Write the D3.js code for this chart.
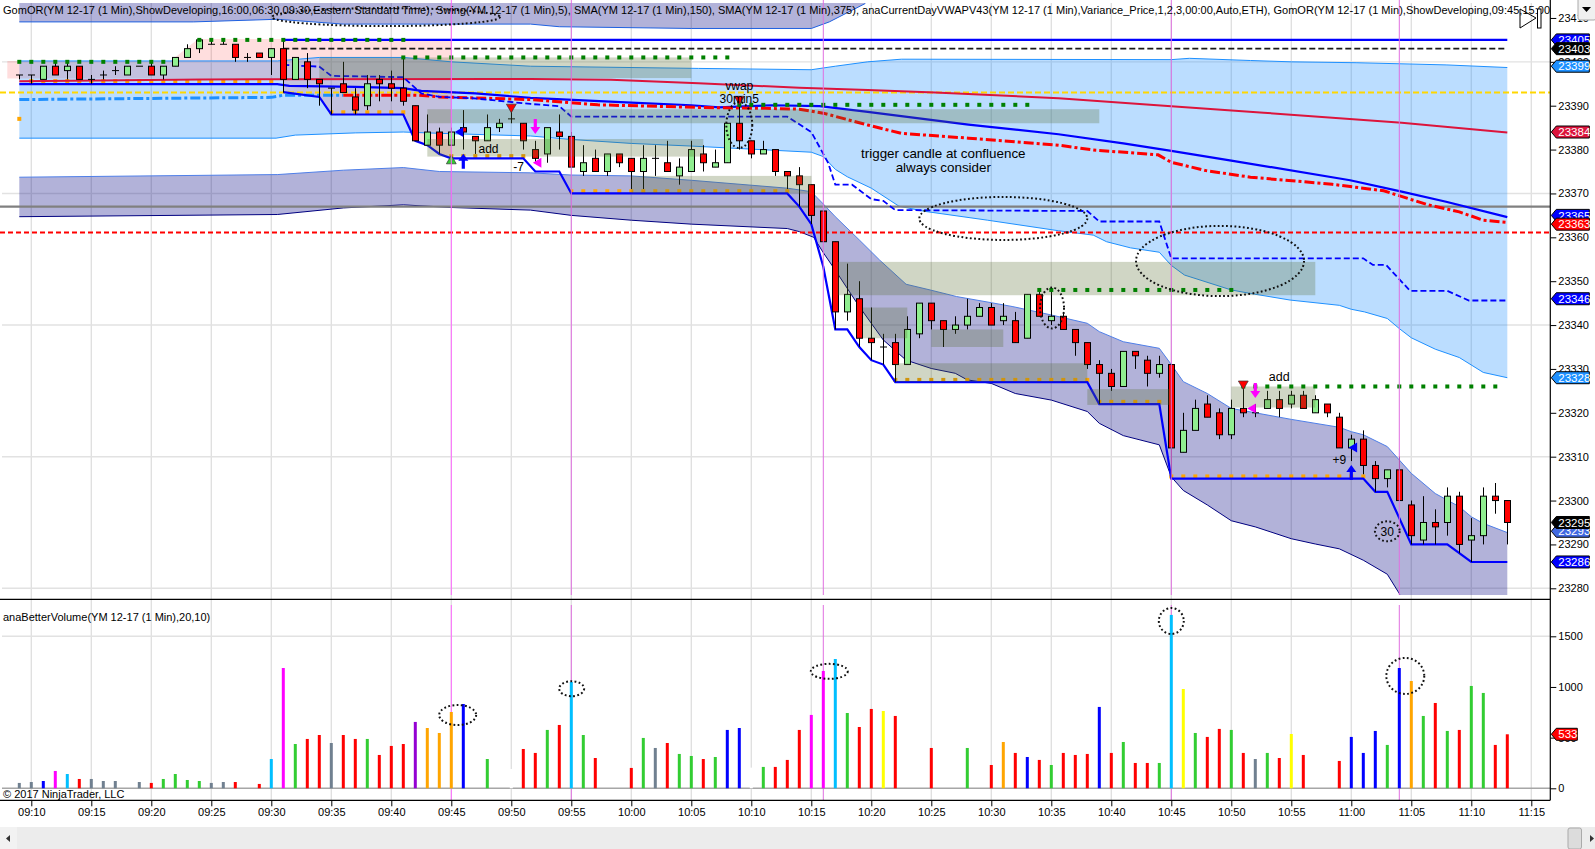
<!DOCTYPE html>
<html>
<head>
<meta charset="utf-8">
<script src="https://cdn.jsdelivr.net/npm/d3@7"></script>
<style>
body { margin: 0; background: #fff; }
text { font-family: "Liberation Sans", Arial, sans-serif; font-size: 11px; fill: #000; }
</style>
</head>
<body>
<div id="root"></div>
<script>
// minutes are counted from 09:09, one candle per minute
var opens = [23397,23397,23396,23399,23398,23399,23396,23397,23398,23397,23399,23399,23397,23399,23401,23403,23404,23404,23404,23401,23402,23401,23403,23396,23400,23396,23394,23395,23392,23390,23396,23395,23394,23390,23381,23384,23381,23385,23383,23382,23385,23387,23386,23380,23379,23384,23383,23375,23378,23375,23379,23378,23375,23378,23377,23374,23375,23379,23376,23377,23386,23382,23379,23380,23375,23374,23372,23366,23359,23343,23346,23337,23335,23336,23331,23338,23345,23341,23339,23340,23342,23344,23341,23341,23337,23347,23341,23342,23339,23336,23331,23329,23326,23334,23332,23329,23331,23311,23316,23322,23320,23315,23321,23320,23321,23323,23322,23324,23320,23322,23319,23312,23314,23308,23305,23307,23299,23291,23295,23295,23301,23291,23292,23301,23300];
var highs = [23397,23397,23399,23400,23400,23399,23397,23398,23399,23399,23399,23400,23399,23401,23404,23405,23405,23405,23404,23402,23402,23403,23405,23401,23402,23396,23394,23400,23394,23397,23397,23398,23401,23390,23388,23385,23385,23389,23383,23388,23387,23389,23386,23382,23385,23388,23384,23381,23380,23379,23379,23378,23381,23381,23382,23378,23382,23381,23380,23386,23392,23382,23382,23380,23375,23376,23372,23366,23359,23354,23350,23344,23338,23338,23342,23345,23345,23341,23342,23346,23345,23345,23345,23343,23347,23348,23348,23343,23339,23336,23332,23330,23334,23334,23333,23333,23331,23320,23323,23324,23321,23323,23326,23322,23325,23325,23325,23325,23324,23322,23320,23315,23316,23309,23307,23310,23300,23301,23298,23303,23302,23296,23303,23304,23300];
var lows = [23396,23395,23396,23397,23396,23396,23395,23396,23397,23397,23399,23397,23396,23399,23401,23402,23404,23404,23400,23400,23401,23397,23393,23396,23394,23390,23388,23393,23388,23389,23391,23391,23390,23382,23381,23379,23381,23380,23379,23382,23384,23386,23380,23377,23377,23380,23376,23374,23375,23374,23376,23371,23371,23374,23375,23372,23375,23375,23376,23377,23380,23378,23379,23374,23371,23367,23363,23359,23339,23341,23335,23332,23331,23327,23331,23337,23339,23335,23338,23339,23342,23340,23340,23336,23337,23342,23340,23339,23333,23330,23322,23325,23326,23330,23326,23328,23305,23311,23316,23319,23314,23314,23319,23319,23321,23319,23321,23321,23320,23319,23312,23309,23306,23302,23303,23300,23290,23290,23290,23292,23288,23286,23290,23297,23290];
var closes = [23397,23397,23399,23397,23399,23396,23396,23397,23398,23399,23399,23397,23399,23401,23403,23405,23404,23404,23401,23401,23401,23403,23396,23401,23396,23395,23394,23393,23389,23395,23395,23394,23391,23382,23384,23381,23384,23384,23382,23385,23386,23387,23382,23378,23385,23383,23376,23377,23375,23379,23377,23375,23378,23378,23375,23376,23380,23377,23377,23386,23382,23379,23380,23375,23374,23372,23365,23359,23343,23347,23337,23336,23335,23331,23339,23345,23341,23339,23340,23342,23344,23340,23342,23336,23347,23342,23342,23339,23336,23331,23329,23326,23334,23333,23329,23331,23312,23316,23321,23319,23315,23321,23320,23320,23323,23321,23324,23321,23323,23320,23312,23314,23308,23305,23307,23300,23292,23295,23294,23301,23290,23292,23301,23300,23295];

var volumes = [53,62,72,171,141,92,92,72,72,0,62,53,92,141,82,72,53,62,62,0,43,289,1187,437,487,526,447,526,487,487,329,418,437,655,595,546,753,832,0,289,0,191,388,349,576,625,1049,526,299,0,0,201,497,398,447,339,319,289,309,576,595,204,211,211,280,576,724,1158,1276,743,605,783,763,714,0,0,398,0,0,398,0,230,457,349,309,280,230,349,329,339,803,349,457,250,250,250,1711,980,546,507,586,576,349,289,349,299,536,329,0,0,270,507,349,566,428,1187,1059,714,842,566,576,1010,941,428,533];
var volumeKinds = ["s","s","b","m","c","r","s","s","s","-","s","r","G","G","G","G","s","s","r","-","r","c","m","G","r","r","s","r","r","G","r","r","r","p","o","o","o","b","-","G","-","w","r","r","G","r","c","G","r","-","-","r","G","s","r","G","G","r","G","b","b","w","G","r","r","r","m","m","c","G","r","r","y","r","-","-","r","-","-","G","-","r","o","r","b","r","G","r","r","r","b","r","G","r","r","G","c","y","G","r","r","G","r","s","G","r","y","r","-","-","r","b","b","b","G","b","o","G","r","G","r","G","G","r","r"];
var volumeColors = { s: "#708090", b: "#0000ff", m: "#ff00ff", c: "#00bfff", r: "#ff0000", G: "#32cd32", p: "#9400d3", o: "#ffa500", y: "#ffff00", w: "#ffffff" };

var priceTicks = [23410,23400,23390,23380,23370,23360,23350,23340,23330,23320,23310,23300,23290,23280];
var priceGrid = [23400,23370,23340,23310,23280];
var volumeTicks = [0,500,1000,1500];
var timeTicks = [1,6,11,16,21,26,31,36,41,46,51,56,61,66,71,76,81,86,91,96,101,106,111,116,121,126];
var timeLabels = ["09:10","09:15","09:20","09:25","09:30","09:35","09:40","09:45","09:50","09:55","10:00","10:05","10:10","10:15","10:20","10:25","10:30","10:35","10:40","10:45","10:50","10:55","11:00","11:05","11:10","11:15"];
var sessionLines = [36,46,67,96,115];

var blueUpper = [[0,23400.2],[21.5,23400.2],[25,23401],[32,23401],[36,23400],[42.6,23399],[56.6,23398.5],[66,23398.2],[68,23399],[70.7,23400],[73.5,23400.6],[96,23400.5],[97.5,23400.8],[102.6,23400.3],[106,23400],[111.4,23399.8],[118.9,23399.3],[124,23398.7]];
var blueLower = [[0,23382.6],[21.4,23382.6],[23,23383.3],[28,23383.8],[32,23384],[35,23383.7],[42.6,23383.1],[46,23382.3],[51,23381.4],[56,23380.8],[61,23380.1],[66,23379.4],[67,23378.4],[68,23375.5],[69,23373.8],[71,23371.2],[73.3,23367.1],[75.5,23365.9],[80.7,23363.9],[86.6,23361.5],[89.5,23360.5],[90.6,23359],[92.6,23357.6],[95,23356.6],[96,23353.6],[97.1,23351.4],[101,23348],[102.6,23347.2],[105.9,23345.7],[110,23344.5],[111,23343.6],[112.1,23343],[114,23341.5],[115,23339.2],[116,23337.1],[118,23334.5],[120,23332.6],[122,23329.2],[124,23328]];
var purpleUpper = [[0,23373.7],[21.5,23374.3],[27,23375.3],[32,23375.9],[35,23375],[42.6,23374.7],[46,23374.2],[51,23374],[56,23373],[64,23371.2],[66,23370.4],[67,23367.6],[68,23364.7],[70,23359.4],[71.7,23354.8],[73.9,23349.3],[75.9,23348],[78.1,23346.5],[81,23345.1],[82.8,23344.2],[86,23342.3],[89,23340.4],[90,23338.5],[92,23336.2],[95,23334.7],[96,23331],[97,23327.1],[99,23324.4],[101,23321],[106,23318.5],[110,23316.7],[111,23315.7],[112,23315],[114,23312.3],[116,23306.2],[118,23301.6],[120,23298.6],[121,23296.3],[122,23294.8],[124,23292.7]];
var purpleLower = [[0,23364.7],[21.5,23365.2],[27,23366.7],[32,23367.4],[36,23366.8],[42.6,23366.2],[46,23365],[51,23363.9],[56,23363],[64,23362],[65,23361.3],[66.2,23360],[67,23356.5],[68,23352.5],[70,23344.2],[72,23336.6],[73.9,23332],[76,23330.1],[78,23329],[79,23327.5],[81,23326.7],[83,23324.4],[86,23322.9],[89,23320.3],[90,23317.6],[92,23314.8],[95,23312.7],[96,23305.4],[97,23302.3],[99,23299],[101,23295.4],[103,23294],[106,23291.3],[108,23290.1],[110,23289],[112,23286.4],[114,23283.2],[115,23278.8],[116,23270],[124,23270]];
var topPurpleUpper = [[0,23425],[70.5,23425]];
var topPurpleLower = [[0,23409.1],[14.5,23409.1],[21.5,23409.7],[27,23408.6],[42.6,23408.6],[45,23408],[56,23407.6],[66,23407.6],[67.5,23409.1],[70.5,23413.3]];
var pinkUpper = [[-1,23400.2],[12.6,23400.2],[14.9,23405.2],[36,23405.2]];
var pinkLower = [[-1,23396.2],[22,23396.2],[22,23393.1],[25,23392],[26,23388],[32,23388],[33,23382],[34,23381],[35,23379],[36,23378]];

var orHigh = [[22,23405],[124,23405]];
var orLow = [[22,23393.1],[25,23392],[26,23388],[32,23388],[33,23382],[34,23381],[35,23379],[36,23378],[42,23378],[43,23375],[45,23375],[46,23370],[64,23370],[65,23367],[66,23363],[67,23353.3],[68,23339],[69,23339],[70,23335],[71,23332],[72,23331],[73,23327],[89,23327],[90,23322],[95,23322],[96,23305],[112,23305],[113,23302],[114,23302],[116,23290],[119,23290],[121,23286],[124,23286]];
var sma150 = [[0,23394.9],[21.5,23394.9],[22.5,23394.5],[28,23394.3],[32,23394],[33.5,23393.4],[38,23392.8],[42.6,23391.8],[51,23390.7],[56,23390.1],[58.3,23389.6],[62.7,23390.1],[66.7,23389.9],[70.7,23388.6],[79.1,23385.7],[86.6,23383.5],[92,23381.4],[96,23379.7],[101,23377.5],[110.9,23373],[115.2,23370.4],[118.9,23368.1],[124,23364.6]];
var sma375 = [[0,23395.6],[15,23396],[42.6,23396.1],[49.3,23395.9],[56.6,23395.1],[65,23394.1],[70.7,23393.6],[76.3,23393],[86.6,23391.7],[96,23389.9],[103.7,23388.4],[115.2,23386.1],[124,23383.9]];
var vwapBlue = [[0,23391.4],[21,23391.9],[22,23392.4],[27,23392.4]];
var vwapRed = [[27,23392.4],[33.3,23392.4],[35,23392],[42.6,23391.4],[48.2,23390.2],[56.6,23389.6],[62.2,23389.4],[65,23389.2],[67,23388.3],[70.7,23385.6],[73.5,23383.7],[79.1,23382.6],[86.6,23381],[89.5,23379.9],[94.9,23378.8],[96,23377.1],[98.9,23375.2],[102.6,23373.7],[109.4,23372.1],[113.7,23370.6],[117.4,23367.4],[120,23365.8],[122,23363.9],[124,23363.4]];
var swingDashed = [[22,23399.3],[25,23398.9],[26,23396.8],[32,23396.5],[33.5,23392.8],[35,23392],[37.8,23391.7],[42.6,23390.4],[45,23389.9],[46,23387.5],[64,23387.5],[66,23384],[67.4,23377],[68,23372],[69.4,23372],[71,23368.7],[72,23368.3],[73,23366.2],[89,23366],[90,23363.6],[95,23363.6],[96,23355.2],[112,23355.2],[112.8,23353.7],[113.9,23353.7],[115.9,23347.8],[119,23347.8],[120.8,23345.6],[124,23345.6]];

var horizontalLevels = [[23393,"#ffd700","6 3",2],[23361.1,"#ff0000","5 3",2]];
var greenLevels = [[0,12,23400],[15,32,23405],[32,59,23401],[60,84,23390.2],[85,101,23348],[102,123,23326]];
var orangeLevels = [[1,21,23395.6],[26,32,23388.5],[36,42,23378.5],[46,64,23370.5],[73,89,23327.5],[90,95,23322.5],[96,112,23305.5],[0,0,23387]];
var zones = [[25,56,23401,23396.3],[34,90,23389.2,23386],[34,57,23382.4,23378.4],[51,66,23374,23370],[73,89,23331.3,23327],[68.2,108,23354.4,23346.8],[70.3,74,23344,23337],[76,82,23339,23335],[89,96,23325.4,23321.8],[101,108,23326,23321.2]];

var ellipses = [[30.56,23410.2,9.5,2.05],[60,23385.6,1.08,5.24],[82,23364.3,7,4.9],[100.06,23354.6,7,8],[86.06,23343.9,1,4.67],[114,23293,1.03,2.28]];
var volumeEllipses = [[36.53,723,1.54,99],[46.03,983,1.04,74],[67.5,1154,1.54,74],[96,1651,1.04,128],[115.5,1109,1.58,178]];
var notes = [["add",39.1,23380.2,12],["-7",41.6,23376,12],["vwap",60,23394.6,12],["30min5",60,23391.6,12],["trigger candle at confluence",77,23379.2,13.4],["always consider",77,23375.9,13.4],["add",105,23328.3,12.5],["+9",110,23309.4,12],["30",114,23292.8,12]];
var priceLabels = [[23405,"#0000ff"],[23403,"#000000"],[23399,"#1e90ff"],[23384,"#dc143c"],[23365,"#0000ff"],[23363,"#ff0000"],[23346,"#0000ff"],[23328,"#1e90ff"],[23293,"#4169e1"],[23295,"#000000"],[23286,"#0000ff"]];
var triangles = [[36,23377.4,"up","#32cd32"],[41,23389.7,"down","#ff0000"],[60,23391.5,"down","#ff0000"],[102,23326.6,"down","#ff0000"],[36.76,23384,"left","#0000ff"],[111.25,23312.1,"left","#0000ff"],[43.27,23377,"left","#ff00ff"],[102.8,23321,"left","#ff00ff"]];
var arrows = [[37,23377.2,"up","#0000ff"],[111,23306.3,"up","#0000ff"],[43,23385.4,"down","#ff00ff"],[103,23325.2,"down","#ff00ff"]];

var titleText = "GomOR(YM 12-17 (1 Min),ShowDeveloping,16:00,06:30,09:30,Eastern Standard Time), Swing(YM 12-17 (1 Min),5), SMA(YM 12-17 (1 Min),150), SMA(YM 12-17 (1 Min),375), anaCurrentDayVWAPV43(YM 12-17 (1 Min),Variance_Price,1,2,3,00:00,Auto,ETH), GomOR(YM 12-17 (1 Min),ShowDeveloping,09:45,15:00";

var width = 1595, height = 849;
var right = 1550.3, panelTop = 3, panelBottom = 595, midLine = 599.3, bottomLine = 800.3;

var x = d3.scaleLinear().domain([0, 125]).range([19.3, 1519.3]);
var y = d3.scaleLinear().domain([23280, 23390]).range([588.3, 105.7]);
var yVol = d3.scaleLinear().domain([0, 1500]).range([788.3, 636.3]);

var svg = d3.select("#root").append("svg")
    .attr("width", width)
    .attr("height", height)
    .style("display", "block");

svg.append("defs").append("clipPath")
    .attr("id", "clip")
    .append("rect")
    .attr("x", 0)
    .attr("y", panelTop)
    .attr("width", right)
    .attr("height", panelBottom - panelTop);

// grid
var grid = svg.append("g");
timeTicks.forEach(function (t) {
    grid.append("line").attr("x1", x(t)).attr("x2", x(t)).attr("y1", panelTop).attr("y2", bottomLine)
        .attr("stroke", "#e0e0e0").attr("stroke-width", 1.4);
});
priceGrid.forEach(function (p) {
    grid.append("line").attr("x1", 2).attr("x2", right).attr("y1", y(p)).attr("y2", y(p))
        .attr("stroke", "#e2e2e2").attr("stroke-width", 1.4);
});
grid.append("line").attr("x1", 2).attr("x2", right).attr("y1", yVol(1500)).attr("y2", yVol(1500))
    .attr("stroke", "#e2e2e2").attr("stroke-width", 1.4);

var main = svg.append("g").attr("clip-path", "url(#clip)");
var line = d3.line().x(function (d) { return x(d[0]); }).y(function (d) { return y(d[1]); });
function band(upper, lower) {
    return line(upper.concat(lower.slice().reverse())) + "Z";
}

// bands
main.append("path").attr("d", band(blueUpper, blueLower)).attr("fill", "#1e90ff").attr("fill-opacity", 0.3);
main.append("path").attr("d", band(pinkUpper, pinkLower)).attr("fill", "#ff0000").attr("fill-opacity", 0.13);
main.append("path").attr("d", band(purpleUpper, purpleLower)).attr("fill", "#000080").attr("fill-opacity", 0.3);
main.append("path").attr("d", band(topPurpleUpper, topPurpleLower)).attr("fill", "#000080").attr("fill-opacity", 0.3);

function drawLine(data, color, w, dash) {
    return main.append("path").attr("d", line(data))
        .attr("fill", "none").attr("stroke", color).attr("stroke-width", w)
        .attr("stroke-dasharray", dash || null);
}
drawLine(blueUpper, "#1e90ff", 1);
drawLine(blueLower, "#1e90ff", 1);
drawLine(purpleUpper, "#4f7fe8", 1);
drawLine(purpleLower, "#000080", 1);
drawLine(topPurpleLower, "#1e60e0", 1);

// session lines
sessionLines.forEach(function (t, i) {
    var c = i == 0 ? "#ff66ff" : "#e070e0";
    svg.append("line").attr("x1", x(t)).attr("x2", x(t)).attr("y1", 0).attr("y2", panelBottom).attr("stroke", c);
    svg.append("line").attr("x1", x(t)).attr("x2", x(t)).attr("y1", 605).attr("y2", bottomLine).attr("stroke", c);
});

// levels
horizontalLevels.forEach(function (l) {
    main.append("line").attr("x1", 0).attr("x2", right).attr("y1", y(l[0])).attr("y2", y(l[0]))
        .attr("stroke", l[1]).attr("stroke-dasharray", l[2]).attr("stroke-width", l[3]);
});
main.append("line").attr("x1", 0).attr("x2", right).attr("y1", y(23367)).attr("y2", y(23367))
    .attr("stroke", "#808080").attr("stroke-width", 2.4);
drawLine([[22, 23403], [124, 23403]], "#1a1a1a", 1.8, "6 3");

// dotted levels
function dots(levels, color, size) {
    levels.forEach(function (l) {
        d3.range(l[0], l[1] + 1).forEach(function (t) {
            main.append("rect").attr("x", x(t) - size / 2).attr("y", y(l[2]) - size / 2)
                .attr("width", size).attr("height", size).attr("fill", color);
        });
    });
}
dots(orangeLevels, "#ffa500", 4);

drawLine(sma375, "#dc143c", 2);
drawLine(sma150, "#0000ff", 2.2);
drawLine(vwapBlue, "#1e90ff", 3, "10 3 3 3");
drawLine(vwapRed, "#ff0000", 3, "10 3 3 3");
drawLine(swingDashed, "#0000ff", 1.8, "6 3");
drawLine(orHigh, "#0000ff", 2.2);
drawLine(orLow, "#0000ff", 2.2);

// candles
var candles = main.append("g");
opens.forEach(function (o, i) {
    var c = closes[i];
    var cx = Math.round(x(i)) + 0.5;
    candles.append("line").attr("x1", cx).attr("x2", cx).attr("y1", y(highs[i])).attr("y2", y(lows[i]))
        .attr("stroke", "#000").attr("stroke-width", 1);
    if (o == c) {
        candles.append("line").attr("x1", cx - 3.5).attr("x2", cx + 3.5).attr("y1", y(o)).attr("y2", y(o))
            .attr("stroke", "#000").attr("stroke-width", 1);
    } else {
        candles.append("rect")
            .attr("x", cx - 3)
            .attr("width", 6)
            .attr("y", y(Math.max(o, c)))
            .attr("height", Math.abs(y(o) - y(c)))
            .attr("fill", c > o ? "#90ee90" : "#ff0000")
            .attr("stroke", "#000")
            .attr("stroke-width", 1);
    }
});

// zones lie over the candles
zones.forEach(function (z) {
    main.append("rect")
        .attr("x", x(z[0]))
        .attr("width", x(z[1]) - x(z[0]))
        .attr("y", y(z[2]))
        .attr("height", y(z[3]) - y(z[2]))
        .attr("fill", "#556b2f")
        .attr("fill-opacity", 0.28);
});
dots(greenLevels, "#008000", 4);

// markers
var symbolRot = { up: 0, down: 180, left: -90 };
triangles.forEach(function (m) {
    main.append("path")
        .attr("d", d3.symbol().type(d3.symbolTriangle).size(42))
        .attr("transform", "translate(" + x(m[0]) + "," + y(m[1]) + ") rotate(" + symbolRot[m[2]] + ")")
        .attr("fill", m[3])
        .attr("stroke", m[2] == "left" ? "none" : "#333")
        .attr("stroke-width", 0.7);
});
arrows.forEach(function (m) {
    var dir = m[2] == "up" ? -1 : 1;
    var px = x(m[0]), py = y(m[1]);
    var g = main.append("g").attr("transform", "translate(" + px + "," + py + ")");
    g.append("line").attr("x1", 0).attr("x2", 0).attr("y1", -dir * 7).attr("y2", dir * 2)
        .attr("stroke", m[3]).attr("stroke-width", 3.2);
    g.append("path").attr("d", d3.line()([[-5, dir], [5, dir], [0, dir * 8]]) + "Z")
        .attr("fill", m[3]);
});

// dotted circles
function drawEllipse(parent, cx, cy, rx, ry) {
    parent.append("ellipse").attr("cx", cx).attr("cy", cy).attr("rx", rx).attr("ry", ry)
        .attr("fill", "none").attr("stroke", "#111").attr("stroke-width", 2)
        .attr("stroke-dasharray", "1.8 2.4");
}
ellipses.forEach(function (e) {
    drawEllipse(svg, x(e[0]), y(e[1]), x(e[2]) - x(0), y(0 + 23280) - y(23280 + e[3]));
});

// notes
notes.forEach(function (n) {
    svg.append("text").attr("x", x(n[1])).attr("y", y(n[2]))
        .attr("text-anchor", "middle").attr("dy", "0.35em")
        .style("font-size", n[3] + "px").text(n[0]);
});

// volume bars
var volumePanel = svg.append("g");
volumePanel.append("line").attr("x1", 2).attr("x2", right).attr("y1", yVol(0)).attr("y2", yVol(0))
    .attr("stroke", "#a6a6a6").attr("stroke-width", 1.4);
volumes.forEach(function (v, i) {
    if (!v) return;
    volumePanel.append("rect")
        .attr("x", x(i) - 1.5)
        .attr("width", 3)
        .attr("y", yVol(v))
        .attr("height", yVol(0) - yVol(v))
        .attr("fill", volumeColors[volumeKinds[i]]);
});
volumeEllipses.forEach(function (e) {
    drawEllipse(svg, x(e[0]), yVol(e[1]), x(e[2]) - x(0), yVol(0) - yVol(e[3]));
});

// frame and axes
svg.append("line").attr("x1", 0).attr("x2", right).attr("y1", midLine).attr("y2", midLine).attr("stroke", "#000").attr("stroke-width", 1.2);
svg.append("line").attr("x1", 0).attr("x2", right).attr("y1", bottomLine).attr("y2", bottomLine).attr("stroke", "#000").attr("stroke-width", 1.2);
svg.append("line").attr("x1", right).attr("x2", right).attr("y1", 0).attr("y2", bottomLine).attr("stroke", "#000").attr("stroke-width", 1.2);

var priceAxis = svg.append("g").attr("transform", "translate(" + right + ",0)")
    .call(d3.axisRight(y).tickValues(priceTicks).tickFormat(d3.format("d")).tickSizeOuter(0));
var volAxis = svg.append("g").attr("transform", "translate(" + right + ",0)")
    .call(d3.axisRight(yVol).tickValues(volumeTicks).tickFormat(d3.format("d")).tickSizeOuter(0));
var timeAxis = svg.append("g").attr("transform", "translate(0," + bottomLine + ")")
    .call(d3.axisBottom(x).tickValues(timeTicks).tickFormat(function (d, i) { return timeLabels[i]; }).tickSizeOuter(0));
[priceAxis, volAxis, timeAxis].forEach(function (a) {
    a.select(".domain").remove();
    a.selectAll("text").attr("font-family", null).attr("font-size", null).attr("fill", null);
    a.selectAll("line").attr("stroke", "#000");
});
priceAxis.selectAll("text").attr("x", 8);
volAxis.selectAll("text").attr("x", 8);
timeAxis.selectAll("text").attr("y", 8);

// price markers on the axis
function marker(v, scale, color, label, w) {
    var py = scale(v);
    var g = svg.append("g").attr("transform", "translate(" + (right + 1) + "," + py + ")");
    g.append("path")
        .attr("d", d3.line()([[0, 0], [5, -6], [w, -6], [w, 6], [5, 6]]) + "Z")
        .attr("fill", color).attr("stroke", "#000").attr("stroke-width", 1);
    g.append("text").attr("x", 7).attr("dy", "0.36em").style("fill", "#fff").style("font-size", "11.5px").text(label);
}
priceLabels.forEach(function (l) { marker(l[0], y, l[1], l[0], 38); });
marker(volumes[124], yVol, "#ff0000", volumes[124], 26);

// titles
svg.append("text").attr("x", 3).attr("y", 14)
    .attr("textLength", 1547).attr("lengthAdjust", "spacing").text(titleText);
svg.append("text").attr("x", 3).attr("y", 621).text("anaBetterVolume(YM 12-17 (1 Min),20,10)");
svg.append("text").attr("x", 3).attr("y", 798).text("© 2017 NinjaTrader, LLC");

// window chrome
var chrome = svg.append("g");
chrome.append("path").attr("d", d3.line()([[1520, 9], [1536, 18], [1520, 28]]) + "Z").attr("fill", "none").attr("stroke", "#000");
chrome.append("rect").attr("x", 1537.5).attr("y", 9).attr("width", 3.5).attr("height", 19).attr("fill", "#fff").attr("stroke", "#000");
chrome.append("rect").attr("x", 1578).attr("y", -2).attr("width", 18).attr("height", 22).attr("rx", 2).attr("fill", "#f0f0f0").attr("stroke", "#aaa");
chrome.append("path").attr("d", d3.line()([[1582, 7], [1591, 7], [1586.5, 12]]) + "Z").attr("fill", "#000");
chrome.append("rect").attr("x", 0).attr("y", 827).attr("width", width).attr("height", 22).attr("fill", "#ececec");
chrome.append("rect").attr("x", 0).attr("y", 827).attr("width", 17).attr("height", 22).attr("fill", "#f2f2f2");
chrome.append("path").attr("d", d3.line()([[10, 835], [10, 842], [6, 838.5]]) + "Z").attr("fill", "#333");
chrome.append("rect").attr("x", 1568).attr("y", 828).attr("width", 13.5).attr("height", 21).attr("rx", 2).attr("fill", "#dcdcdc").attr("stroke", "#aaa");
chrome.append("path").attr("d", d3.line()([[1590, 835], [1590, 842], [1594, 838.5]]) + "Z").attr("fill", "#333");
</script>
</body>
</html>
